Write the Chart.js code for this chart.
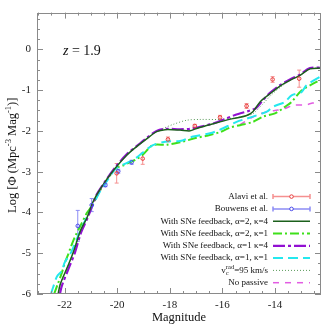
<!DOCTYPE html>
<html>
<head>
<meta charset="utf-8">
<script src="https://cdn.jsdelivr.net/npm/chart.js@4.4.1/dist/chart.umd.min.js"></script>
<style>
  html, body { margin: 0; padding: 0; background: #fff; }
  #wrap { width: 327px; height: 327px; }
</style>
</head>
<body>
<div id="wrap"><canvas id="lf"></canvas></div>
<script>
const FONT = '"Liberation Serif", "Times New Roman", serif';

const X_TICKS = [-22, -20, -18, -16, -14];
const Y_TICKS = [-6, -5, -4, -3, -2, -1, 0];

// observations
const ALAVI_X = [-20.02, -19.03, -18.07, -17.05, -16.09, -15.08, -14.09, -13.08];
const ALAVI_Y = [-3.04, -2.68, -2.21, -1.88, -1.67, -1.39, -0.74, -0.72];
const ALAVI_ERR = [0.24, 0.14, 0.06, 0.04, 0.05, 0.06, 0.07, 0.21];

const BOUWENS_X = [-21.50, -20.97, -20.45, -19.96, -19.45];
const BOUWENS_Y = [-4.33, -3.82, -3.33, -2.99, -2.77];
const BOUWENS_ERR = [0.38, 0.16, 0.04, 0.05, 0.05];

// models
const A2K4_X = [-22.25, -22.16, -21.84, -21.65, -21.40, -21.15, -20.96, -20.77, -20.45, -20.07, -19.63, -19.25, -18.83, -18.50, -18.18, -17.61, -17.23, -16.98, -16.60, -16.09, -15.60, -15.10, -14.84, -14.57, -14.19, -13.81, -13.43, -13.05, -12.67, -12.25];
const A2K4_Y = [-6.0, -5.75, -5.26, -4.94, -4.45, -4.13, -3.80, -3.56, -3.24, -2.91, -2.59, -2.38, -2.17, -2.02, -1.97, -1.98, -2.00, -1.94, -1.87, -1.78, -1.70, -1.63, -1.53, -1.29, -1.09, -0.90, -0.76, -0.64, -0.48, -0.46];

const A2K1_X = [-22.40, -22.25, -22.10, -21.99, -21.87, -21.76, -21.61, -21.42, -21.15, -20.96, -20.73, -20.43, -20.05, -19.78, -19.51, -19.25, -19.02, -18.64, -18.12, -17.61, -16.98, -16.60, -16.09, -15.71, -15.33, -14.84, -14.45, -14.00, -13.62, -13.37, -12.99, -12.42, -12.25];
const A2K1_Y = [-6.0, -5.74, -5.47, -5.23, -5.04, -4.84, -4.60, -4.36, -4.01, -3.84, -3.55, -3.24, -2.92, -2.85, -2.77, -2.69, -2.58, -2.35, -2.34, -2.28, -2.17, -2.12, -2.03, -1.92, -1.86, -1.78, -1.65, -1.57, -1.41, -1.29, -1.01, -0.80, -0.75];

const A1K4_X = [-22.18, -22.10, -21.80, -21.61, -21.38, -21.13, -20.94, -20.77, -20.46, -20.08, -19.63, -19.25, -18.83, -18.50, -18.18, -17.61, -17.23, -16.85, -16.47, -16.09, -15.52, -14.95, -14.72, -14.49, -14.19, -13.81, -13.43, -13.05, -12.67, -12.25];
const A1K4_Y = [-6.0, -5.79, -5.30, -4.99, -4.50, -4.14, -3.82, -3.55, -3.24, -2.90, -2.57, -2.37, -2.15, -2.00, -1.95, -1.96, -1.95, -1.90, -1.84, -1.76, -1.61, -1.50, -1.44, -1.27, -1.07, -0.88, -0.74, -0.62, -0.46, -0.45];

const A1K1_X = [-22.52, -22.44, -22.29, -22.10, -22.00, -21.78, -21.61, -21.40, -21.15, -20.92, -20.65, -20.35, -20.05, -19.78, -19.51, -19.25, -19.02, -18.64, -18.12, -17.61, -17.11, -16.47, -16.09, -15.46, -15.08, -14.84, -14.31, -14.08, -13.62, -13.37, -12.99, -12.80, -12.25];
const A1K1_Y = [-6.0, -5.84, -5.57, -5.43, -5.23, -5.01, -4.77, -4.45, -4.11, -3.82, -3.48, -3.19, -2.92, -2.83, -2.75, -2.65, -2.53, -2.35, -2.26, -2.25, -2.14, -2.06, -1.97, -1.78, -1.70, -1.65, -1.53, -1.41, -1.29, -1.13, -1.05, -0.88, -0.66];

const VC95_X = [-22.25, -22.16, -21.84, -21.65, -21.40, -21.15, -20.96, -20.77, -20.45, -20.07, -19.63, -19.25, -18.83, -18.50, -18.18, -17.87, -17.36, -16.85, -16.09, -15.60, -15.10, -14.84, -14.49, -14.11, -13.73, -13.43, -13.05, -12.67, -12.25];
const VC95_Y = [-6.0, -5.75, -5.26, -4.94, -4.45, -4.13, -3.80, -3.56, -3.24, -2.91, -2.59, -2.38, -2.17, -2.02, -1.92, -1.84, -1.74, -1.72, -1.72, -1.69, -1.63, -1.58, -1.36, -1.10, -0.90, -0.76, -0.64, -0.48, -0.46];

const NOPASS_X = [-15.33, -14.72, -14.27, -13.89, -13.62, -13.28, -12.82, -12.42, -12.25];
const NOPASS_Y = [-1.85, -1.62, -1.53, -1.49, -1.45, -1.37, -1.36, -1.29, -1.27];

function pts(xs, ys) {
  return xs.map(function (x, i) { return { x: x, y: ys[i] }; });
}

function modelLine(label, xs, ys, color, width, dash, order) {
  return {
    label: label,
    data: pts(xs, ys),
    showLine: true,
    borderColor: color,
    backgroundColor: color,
    borderWidth: width,
    borderDash: dash,
    pointRadius: 0,
    pointHoverRadius: 0,
    tension: 0.3,
    order: order,
  };
}

function obsPoints(label, xs, ys, errs, color, barColor) {
  return {
    label: label,
    data: pts(xs, ys),
    errors: errs,
    barColor: barColor,
    showLine: false,
    borderColor: color,
    backgroundColor: 'rgba(255,255,255,0)',
    borderWidth: 1,
    pointRadius: 1.8,
    pointStyle: 'circle',
    order: 0,
  };
}

// vertical error bars, positioned through the chart scales
const errorBars = {
  id: 'errorBars',
  beforeDatasetsDraw(chart) {
    const ctx = chart.ctx;
    const xs = chart.scales.x, ys = chart.scales.y;
    ctx.save();
    chart.data.datasets.forEach(function (ds) {
      if (!ds.errors) return;
      ctx.strokeStyle = ds.barColor;
      ctx.lineWidth = 1;
      ds.data.forEach(function (p, i) {
        const e = ds.errors[i];
        const px = xs.getPixelForValue(p.x);
        const y1 = ys.getPixelForValue(p.y + e);
        const y2 = ys.getPixelForValue(p.y - e);
        ctx.beginPath();
        ctx.moveTo(px, y1); ctx.lineTo(px, y2);
        ctx.moveTo(px - 2, y1); ctx.lineTo(px + 2, y1);
        ctx.moveTo(px - 2, y2); ctx.lineTo(px + 2, y2);
        ctx.stroke();
      });
    });
    ctx.restore();
  },
};

// text made of pieces; a piece with stack:true shares its x with the next one
function drawParts(ctx, parts, x, y, align) {
  function walk(draw) {
    let cx = 0, i = 0;
    while (i < parts.length) {
      const p = parts[i];
      ctx.font = p.f;
      let pw = ctx.measureText(p.t).width;
      if (draw) ctx.fillText(p.t, draw + cx, y + (p.dy || 0));
      if (p.stack && parts[i + 1]) {
        const q = parts[i + 1];
        ctx.font = q.f;
        if (draw) ctx.fillText(q.t, draw + cx, y + (q.dy || 0));
        pw = Math.max(pw, ctx.measureText(q.t).width);
        i += 2;
      } else {
        i += 1;
      }
      cx += pw;
    }
    return cx;
  }
  const w = walk(0);
  const start = align === 'right' ? x - w : (align === 'center' ? x - w / 2 : x);
  walk(start || 0.0001);
}

const LEGEND_RICH = {
  'vc95': [
    { t: 'v', f: '9px ' + FONT },
    { t: 'c', f: '6.5px ' + FONT, dy: 2.5, stack: true },
    { t: 'rad', f: '6.5px ' + FONT, dy: -3.5 },
    { t: '=95 km/s', f: '9px ' + FONT },
  ],
};

// frame, inward ticks, annotations and legend
const decor = {
  id: 'decor',
  afterDatasetsDraw(chart) {
    const ctx = chart.ctx;
    const a = chart.chartArea;
    const xs = chart.scales.x, ys = chart.scales.y;
    ctx.save();
    ctx.strokeStyle = '#8a8a8a';
    ctx.lineWidth = 1;
    ctx.strokeRect(Math.round(a.left) + 0.5, Math.round(a.top) + 0.5,
      Math.round(a.right - a.left) - 1, Math.round(a.bottom - a.top) - 1);

    ctx.beginPath();
    for (let v = Math.ceil(xs.min * 2) / 2; v <= xs.max; v += 0.5) {
      const px = Math.round(xs.getPixelForValue(v)) + 0.5;
      const len = X_TICKS.indexOf(v) >= 0 ? 6 : 3;
      ctx.moveTo(px, a.bottom); ctx.lineTo(px, a.bottom - len);
      ctx.moveTo(px, a.top); ctx.lineTo(px, a.top + len);
    }
    for (let v = Math.ceil(ys.min * 4) / 4; v <= ys.max; v += 0.25) {
      const py = Math.round(ys.getPixelForValue(v)) + 0.5;
      const len = Y_TICKS.indexOf(v) >= 0 ? 6 : 3;
      ctx.moveTo(a.left, py); ctx.lineTo(a.left + len, py);
      ctx.moveTo(a.right, py); ctx.lineTo(a.right - len, py);
    }
    ctx.stroke();

    // y title with superscripts
    ctx.fillStyle = '#111';
    ctx.textBaseline = 'middle';
    ctx.textAlign = 'left';
    ctx.save();
    ctx.translate(13, (a.top + a.bottom) / 2 + 2);
    ctx.rotate(-Math.PI / 2);
    drawParts(ctx, [
      { t: 'Log [\u03A6 (Mpc', f: '12.5px ' + FONT },
      { t: '-3', f: '8.5px ' + FONT, dy: -4.5 },
      { t: ' Mag', f: '12.5px ' + FONT },
      { t: '-1', f: '8.5px ' + FONT, dy: -4.5 },
      { t: ')]', f: '12.5px ' + FONT },
    ], 0, 0, 'center');
    ctx.restore();

    // redshift label
    drawParts(ctx, [
      { t: 'z', f: 'italic 14px ' + FONT },
      { t: ' = 1.9', f: '14px ' + FONT },
    ], a.left + 26, a.top + 39, 'left');

    // legend, bottom right inside the plot
    const items = chart.data.datasets;
    const n = items.length;
    const x0 = a.right - 48, x1 = a.right - 11;
    items.forEach(function (ds, i) {
      const y = a.bottom - 11.3 - (n - 1 - i) * 12.3;
      ctx.fillStyle = '#111';
      if (LEGEND_RICH[ds.key]) {
        drawParts(ctx, LEGEND_RICH[ds.key], a.right - 53, y, 'right');
      } else {
        drawParts(ctx, [{ t: ds.label, f: '9px ' + FONT }], a.right - 53, y, 'right');
      }
      ctx.save();
      if (ds.errors) {
        ctx.strokeStyle = ds.barColor;
        ctx.lineWidth = 1.5;
        ctx.beginPath();
        ctx.moveTo(x0, y); ctx.lineTo(x1, y);
        ctx.moveTo(x0, y - 2.5); ctx.lineTo(x0, y + 2.5);
        ctx.moveTo(x1, y - 2.5); ctx.lineTo(x1, y + 2.5);
        ctx.stroke();
        ctx.strokeStyle = ds.borderColor;
        ctx.lineWidth = 1;
        ctx.fillStyle = '#fff';
        ctx.beginPath();
        ctx.arc((x0 + x1) / 2, y, 1.8, 0, Math.PI * 2);
        ctx.fill();
        ctx.stroke();
      } else {
        ctx.strokeStyle = ds.borderColor;
        ctx.lineWidth = ds.borderWidth;
        ctx.setLineDash(ds.borderDash || []);
        ctx.beginPath();
        ctx.moveTo(x0, y); ctx.lineTo(x1, y);
        ctx.stroke();
      }
      ctx.restore();
    });
    ctx.restore();
  },
};

const datasets = [
  obsPoints('Alavi et al.', ALAVI_X, ALAVI_Y, ALAVI_ERR, '#e83c3c', '#f59090'),
  obsPoints('Bouwens et al.', BOUWENS_X, BOUWENS_Y, BOUWENS_ERR, '#4848e8', '#8c8cf5'),
  modelLine('With SNe feedback, \u03B1=2, \u03BA=4', A2K4_X, A2K4_Y, '#1c601c', 1.5, [], 1),
  modelLine('With SNe feedback, \u03B1=2, \u03BA=1', A2K1_X, A2K1_Y, '#3ee01a', 2, [9, 3, 2, 3], 4),
  modelLine('With SNe feedback, \u03B1=1 \u03BA=4', A1K4_X, A1K4_Y, '#9210d2', 2.2, [12, 3, 3, 3], 2),
  modelLine('With SNe feedback, \u03B1=1, \u03BA=1', A1K1_X, A1K1_Y, '#24e8ee', 2, [10, 5], 3),
  modelLine('vc rad=95 km/s', VC95_X, VC95_Y, '#5a9a5a', 1, [1, 2], 5),
  modelLine('No passive', NOPASS_X, NOPASS_Y, '#e25ce2', 1.5, [6, 6], 6),
];
datasets[6].key = 'vc95';

new Chart(document.getElementById('lf'), {
  type: 'scatter',
  data: { datasets: datasets },
  options: {
    responsive: true,
    maintainAspectRatio: false,
    animation: false,
    layout: { padding: { top: 10, right: 6, left: 0, bottom: 0 } },
    plugins: {
      legend: { display: false },
      tooltip: { enabled: false },
    },
    scales: {
      x: {
        type: 'linear',
        min: -23.05,
        max: -12.25,
        afterBuildTicks(scale) { scale.ticks = X_TICKS.map(function (v) { return { value: v }; }); },
        afterFit(scale) { scale.height = 33; },
        grid: { display: false, drawTicks: false },
        border: { display: false },
        ticks: { color: '#222', padding: 5, font: { family: FONT, size: 11 } },
        title: {
          display: true,
          text: 'Magnitude',
          color: '#111',
          font: { family: FONT, size: 12.5 },
          padding: { top: 0, bottom: 2 },
        },
      },
      y: {
        type: 'linear',
        min: -6,
        max: 0.9,
        afterBuildTicks(scale) { scale.ticks = Y_TICKS.map(function (v) { return { value: v }; }); },
        afterFit(scale) { scale.width = 37; },
        grid: { display: false, drawTicks: false },
        border: { display: false },
        ticks: { color: '#222', padding: 6, font: { family: FONT, size: 11 } },
      },
    },
  },
  plugins: [errorBars, decor],
});
</script>
</body>
</html>
